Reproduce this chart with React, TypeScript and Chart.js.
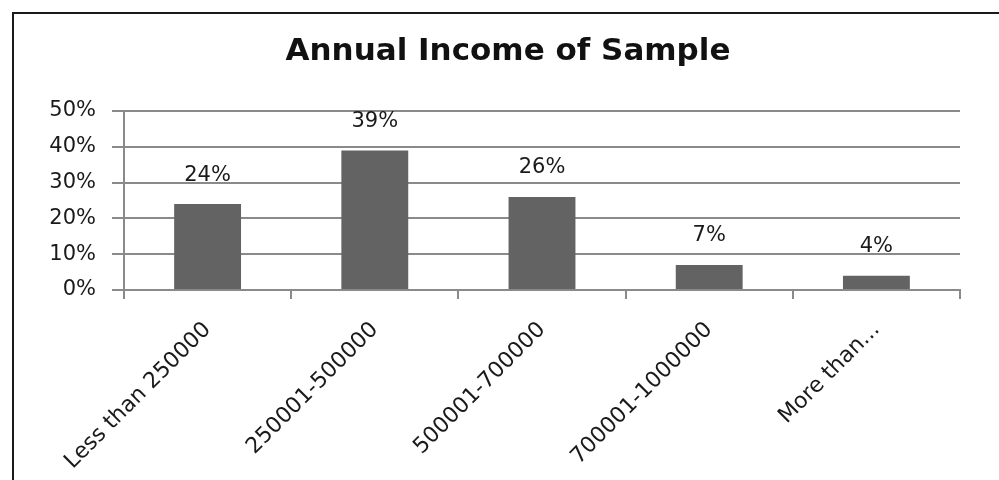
import React, { useEffect, useRef } from "react";
import { Chart, registerables } from "chart.js";

Chart.register(...registerables);

const titleText = "Annual Income of Sample";
const categories = ["Less than 250000", "250001-500000", "500001-700000", "700001-1000000", "More than..."];
const percentValues = [24, 39, 26, 7, 4];
const yTickValues = [0, 10, 20, 30, 40, 50];

const FONT = "'DejaVu Sans', sans-serif";

const framePlugin = {
  id: "frameAndTitle",
  beforeDraw(chart: any) {
    const ctx = chart.ctx;
    ctx.save();
    ctx.fillStyle = "#ffffff";
    ctx.fillRect(0, 0, chart.width, chart.height);
    ctx.strokeStyle = "#1a1a1a";
    ctx.lineWidth = 2;
    ctx.beginPath();
    ctx.moveTo(13, chart.height + 5);
    ctx.lineTo(13, 13);
    ctx.lineTo(chart.width + 5, 13);
    ctx.stroke();
    ctx.fillStyle = "#111111";
    ctx.font = `bold 31px ${FONT}`;
    ctx.textAlign = "center";
    ctx.textBaseline = "alphabetic";
    ctx.fillText(titleText, 508, 60);
    ctx.restore();
  },
};

const valueLabelPlugin = {
  id: "valueLabels",
  afterDatasetsDraw(chart: any) {
    const ctx = chart.ctx;
    const meta = chart.getDatasetMeta(0);
    ctx.save();
    ctx.fillStyle = "#1a1a1a";
    ctx.font = `21px ${FONT}`;
    ctx.textAlign = "center";
    ctx.textBaseline = "middle";
    meta.data.forEach((bar: any, i: number) => {
      ctx.fillText(`${percentValues[i]}%`, bar.x, bar.y - 29);
    });
    ctx.restore();
  },
};

export default function App() {
  const canvasRef = useRef<HTMLCanvasElement | null>(null);

  useEffect(() => {
    document.body.style.margin = "0";
    const canvas = canvasRef.current;
    if (!canvas) return;
    const chart = new Chart(canvas, {
      type: "bar",
      data: {
        labels: categories,
        datasets: [
          {
            data: percentValues,
            backgroundColor: "#636363",
            borderWidth: 0,
            barPercentage: 0.4,
            categoryPercentage: 1,
          },
        ],
      },
      options: {
        responsive: false,
        animation: false,
        devicePixelRatio: 1,
        layout: { padding: { top: 111, right: 39, left: 0, bottom: 0 } },
        plugins: {
          legend: { display: false },
          title: { display: false },
          tooltip: { enabled: false },
        },
        scales: {
          x: {
            offset: true,
            grid: {
              offset: true,
              drawOnChartArea: false,
              drawTicks: true,
              tickLength: 9,
              color: "#8a8a8a",
              lineWidth: 2,
            },
            border: { color: "#8a8a8a", width: 2 },
            ticks: {
              minRotation: 45,
              maxRotation: 45,
              autoSkip: false,
              padding: 18,
              color: "#1a1a1a",
              font: { family: FONT, size: 22 },
            },
            afterFit(scale: any) {
              scale.height = 190;
            },
          },
          y: {
            min: 0,
            max: 50,
            afterBuildTicks(scale: any) {
              scale.ticks = yTickValues.map((v) => ({ value: v }));
            },
            grid: {
              drawTicks: true,
              tickLength: 12,
              color: "#8a8a8a",
              lineWidth: 2,
            },
            border: { color: "#8a8a8a", width: 2 },
            ticks: {
              padding: 16,
              color: "#1a1a1a",
              font: { family: FONT, size: 21 },
              callback: (v: any) => `${v}%`,
            },
            afterFit(scale: any) {
              scale.width = 124;
            },
          },
        },
      },
      plugins: [framePlugin, valueLabelPlugin],
    });
    return () => chart.destroy();
  }, []);

  return (
    <div style={{ width: 999, height: 480, position: "relative" }}>
      <canvas ref={canvasRef} width={999} height={480} style={{ display: "block" }} />
    </div>
  );
}
